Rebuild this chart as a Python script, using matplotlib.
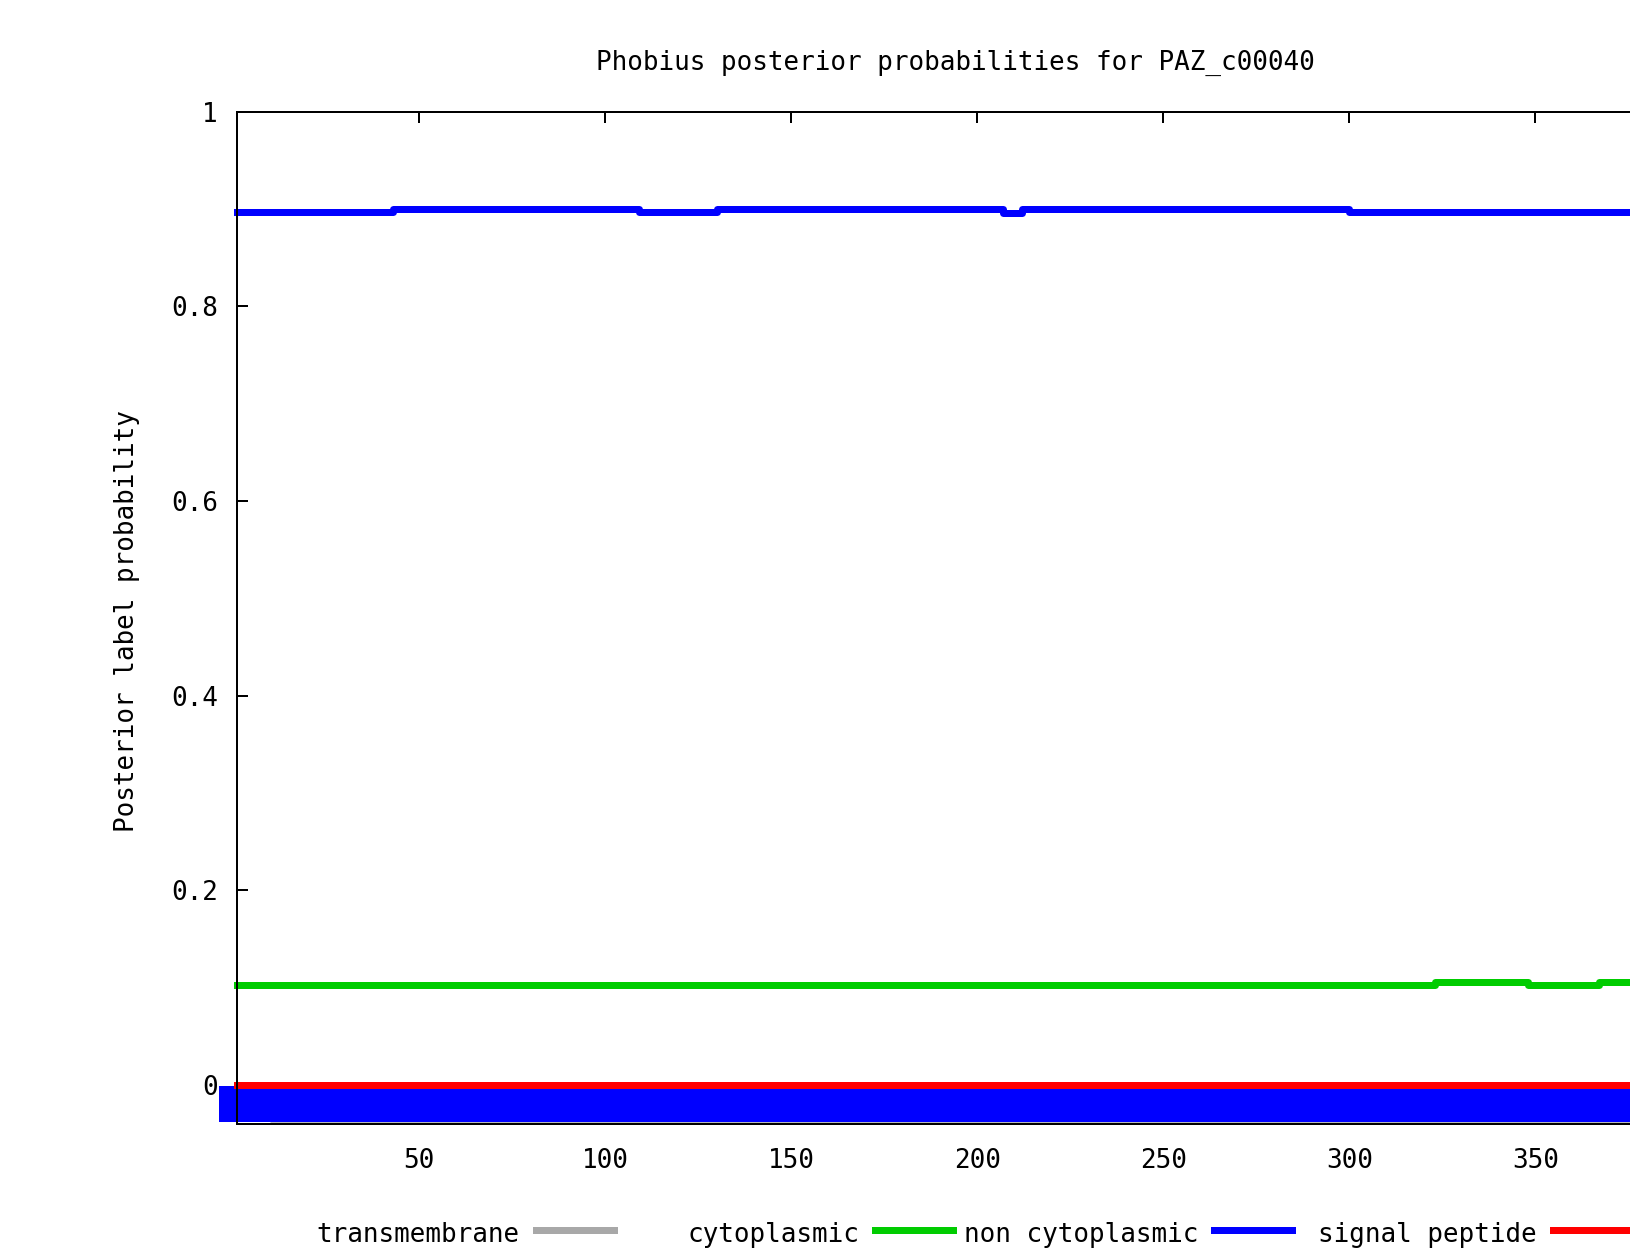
"""Phobius posterior probability plot for PAZ_c00040 (gnuplot-style)."""
import matplotlib
matplotlib.use("Agg")
import matplotlib.pyplot as plt
from matplotlib.lines import Line2D

SEQ_LEN = 387

# posterior probability step series (position where value starts, value)
cyt_pos = [1, 323, 348, 367, SEQ_LEN]
cyt_val = [0.1030, 0.1058, 0.1030, 0.1058, 0.1058]

noncyt_pos = [1, 43, 109, 130, 207, 212, 300, SEQ_LEN]
noncyt_val = [0.8966, 0.8996, 0.8966, 0.8996, 0.8960, 0.8996, 0.8966, 0.8966]

tm_pos = [1, SEQ_LEN]
tm_val = [0.0, 0.0]

sp_pos = [1, SEQ_LEN]
sp_val = [0.0, 0.0]

# predicted topology track below zero
pred_start, pred_end, pred_y = 1, SEQ_LEN, -0.019
track_start, track_y = 10, -0.0375

xticks = [50, 100, 150, 200, 250, 300, 350]
yticks = [0, 0.2, 0.4, 0.6, 0.8, 1]
ytick_labels = ["0", "0.2", "0.4", "0.6", "0.8", "1"]

legend_labels = ["transmembrane", "cytoplasmic", "non cytoplasmic", "signal peptide"]
legend_colors = ["#a8a8a8", "#00cc00", "#0000ff", "#ff0000"]

W, H, DPI = 1631, 1248, 100
FONT = "DejaVu Sans Mono"
FS = 18.7
LW = 7 * 72 / DPI

plt.rcParams["font.family"] = FONT

fig = plt.figure(figsize=(W / DPI, H / DPI), dpi=DPI)
left, right = 237 / W, 1673 / W
bottom, top = (H - 1124) / H, (H - 111.5) / H
ax = fig.add_axes([left, bottom, right - left, top - bottom])

ax.plot(tm_pos, tm_val, drawstyle="steps-post", color=legend_colors[0],
        lw=LW, solid_capstyle="projecting", clip_on=False, zorder=2)
ax.plot(cyt_pos, cyt_val, drawstyle="steps-post", color=legend_colors[1],
        lw=LW, solid_capstyle="projecting", clip_on=False, zorder=3)
ax.plot(noncyt_pos, noncyt_val, drawstyle="steps-post", color=legend_colors[2],
        lw=LW, solid_capstyle="projecting", clip_on=False, zorder=3)

# topology track
ax.plot([track_start, pred_end], [track_y, track_y], color="#b8b8b8",
        lw=3 * 72 / DPI, solid_capstyle="butt", clip_on=False, zorder=3)
ax.plot([pred_start, pred_end], [pred_y, pred_y], color="#0000ff",
        lw=36 * 72 / DPI, solid_capstyle="projecting", clip_on=False, zorder=4)

ax.plot(sp_pos, sp_val, drawstyle="steps-post", color=legend_colors[3],
        lw=LW, solid_capstyle="projecting", clip_on=False, zorder=5)

ax.set_xlim(1, SEQ_LEN)
ax.set_ylim(-0.04, 1)
ax.set_xticks(xticks)
ax.set_xticklabels([str(t) for t in xticks], fontsize=FS)
ax.set_yticks(yticks)
ax.set_yticklabels(ytick_labels, fontsize=FS)
ax.tick_params(axis="x", direction="in", length=11 * 72 / DPI, width=1.44,
               pad=17.5, top=True)
ax.tick_params(axis="y", direction="in", length=11 * 72 / DPI, width=1.44,
               pad=13.7, right=True)
for sp in ax.spines.values():
    sp.set_linewidth(1.44)
ax.spines["bottom"].set_zorder(6)
ax.spines["left"].set_zorder(6)

fig.text(955 / W, 1 - 63 / H, "Phobius posterior probabilities for PAZ_c00040",
         ha="center", va="center", fontsize=FS)
fig.text(127 / W, 1 - 621 / H, "Posterior label probability",
         ha="center", va="center", rotation=90, fontsize=FS)

# gnuplot-style horizontal key: right-justified text, then sample line
pitch = 339
for i, (lab, col) in enumerate(zip(legend_labels, legend_colors)):
    x_text = (520 + pitch * i) / W
    fig.text(x_text, 6 / H, lab, ha="right", va="baseline", fontsize=FS)
    x0 = (536 + pitch * i) / W
    x1 = (614 + pitch * i) / W
    fig.add_artist(Line2D([x0, x1], [1 - 1230 / H, 1 - 1230 / H],
                          color=col, lw=LW, transform=fig.transFigure))

fig.savefig("out.png", dpi=DPI)
